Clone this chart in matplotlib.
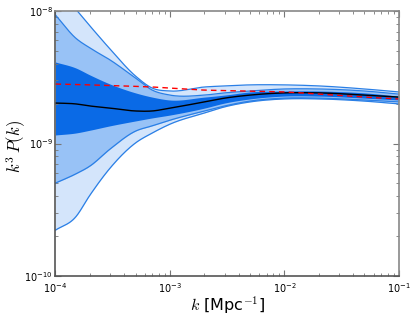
import numpy as np
import matplotlib
matplotlib.use("Agg")
import matplotlib.pyplot as plt
from matplotlib.ticker import LogLocator, NullFormatter

plt.rcParams['mathtext.fontset'] = 'cm'

# k values [Mpc^-1]
k = [1e-4, 1.5e-4, 2e-4, 3e-4, 5e-4, 7e-4, 1e-3, 2e-3, 3e-3, 5e-3,
     1e-2, 2e-2, 5e-2, 1e-1]
# k^3 P(k) in units of 1e-9
outer_hi = [15.7, 10.35, 7.71, 5.16, 3.23, 2.62, 2.49, 2.67, 2.72, 2.77, 2.77, 2.72, 2.58, 2.45]
mid_hi = [9.33, 6.25, 5.26, 4.27, 3.12, 2.53, 2.32, 2.32, 2.41, 2.49, 2.58, 2.58, 2.49, 2.36]
dark_hi = [4.12, 3.72, 3.29, 2.81, 2.41, 2.24, 2.13, 2.24, 2.32, 2.45, 2.49, 2.49, 2.41, 2.28]
mean = [2.02, 1.99, 1.92, 1.85, 1.76, 1.76, 1.85, 2.06, 2.20, 2.32, 2.41, 2.41, 2.32, 2.24]
fiducial = [2.81, 2.79, 2.77, 2.74, 2.70, 2.67, 2.62, 2.53, 2.51, 2.49, 2.45, 2.36, 2.24, 2.17]
dark_lo = [1.16, 1.20, 1.26, 1.36, 1.48, 1.56, 1.64, 1.85, 2.02, 2.17, 2.28, 2.28, 2.20, 2.13]
mid_lo = [0.503, 0.589, 0.676, 0.909, 1.24, 1.36, 1.50, 1.76, 1.92, 2.09, 2.20, 2.20, 2.13, 2.06]
outer_lo = [0.222, 0.279, 0.408, 0.653, 1.01, 1.20, 1.40, 1.70, 1.89, 2.06, 2.17, 2.17, 2.09, 1.99]


def smooth(xs, ys, n=400):
    """Cubic Hermite curve through the given points in log-log space (drawing only)."""
    lx = np.log10(xs)
    ly = np.log10(np.asarray(ys) * 1e-9)
    t_out = np.linspace(lx[0], lx[-1], n)
    m = np.gradient(ly, lx)
    res = np.empty_like(t_out)
    for j, t in enumerate(t_out):
        i = min(np.searchsorted(lx, t, side='right') - 1, len(lx) - 2)
        h = lx[i + 1] - lx[i]
        s = (t - lx[i]) / h
        h00 = 2 * s**3 - 3 * s**2 + 1
        h10 = s**3 - 2 * s**2 + s
        h01 = -2 * s**3 + 3 * s**2
        h11 = s**3 - s**2
        res[j] = h00 * ly[i] + h10 * h * m[i] + h01 * ly[i + 1] + h11 * h * m[i + 1]
    return 10**t_out, 10**res


fig = plt.figure(figsize=(4.16, 3.18), dpi=100)
ax = fig.add_axes([0.1334, 0.132, 0.8256, 0.8334])
ax.set_xscale('log')
ax.set_yscale('log')

c_light = '#d4e5fb'
c_mid = '#98c2f6'
c_dark = '#0a6ae6'
c_edge = '#2a7fe6'

x, oh = smooth(k, outer_hi)
_, ol = smooth(k, outer_lo)
_, mh = smooth(k, mid_hi)
_, ml = smooth(k, mid_lo)
_, dh = smooth(k, dark_hi)
_, dl = smooth(k, dark_lo)
_, mn = smooth(k, mean)
_, fd = smooth(k, fiducial)

ax.fill_between(x, ol, oh, color=c_light, lw=0)
ax.fill_between(x, ml, mh, color=c_mid, lw=0)
ax.fill_between(x, dl, dh, color=c_dark, lw=0)
for yy in (oh, ol, mh, ml):
    ax.plot(x, yy, color=c_edge, lw=0.9)
ax.plot(x, mn, color='black', lw=1.0)
ax.plot(x, fd, color='red', lw=1.0, ls=(0, (4, 3)))

ax.set_xlim(1e-4, 1e-1)
ax.set_ylim(1e-10, 1e-8)
ax.yaxis.set_major_locator(LogLocator(base=10, numticks=10))
ax.yaxis.set_minor_locator(LogLocator(base=10, subs=np.arange(2, 10), numticks=20))
ax.yaxis.set_minor_formatter(NullFormatter())
ax.xaxis.set_minor_formatter(NullFormatter())

ax.tick_params(which='both', direction='in', colors='#777777', labelcolor='black',
               labelsize=7, top=True, right=True, pad=2)
ax.tick_params(axis='x', which='both', pad=3.5)
ax.tick_params(which='major', length=4, width=0.8)
ax.tick_params(which='minor', length=2, width=0.6)
for side, sp in ax.spines.items():
    sp.set_color('#555555' if side in ('left', 'bottom') else '#888888')
    sp.set_linewidth(1.2)

ax.set_xlabel(r'$k$ [Mpc$^{-1}$]', fontsize=11.5, va='center')
ax.xaxis.set_label_coords(0.5, -0.11)
ax.set_ylabel(r'$k^3\,P(k)$', fontsize=12, va='center')
ax.yaxis.set_label_coords(-0.115, 0.49)

fig.savefig('out.png', dpi=100)
